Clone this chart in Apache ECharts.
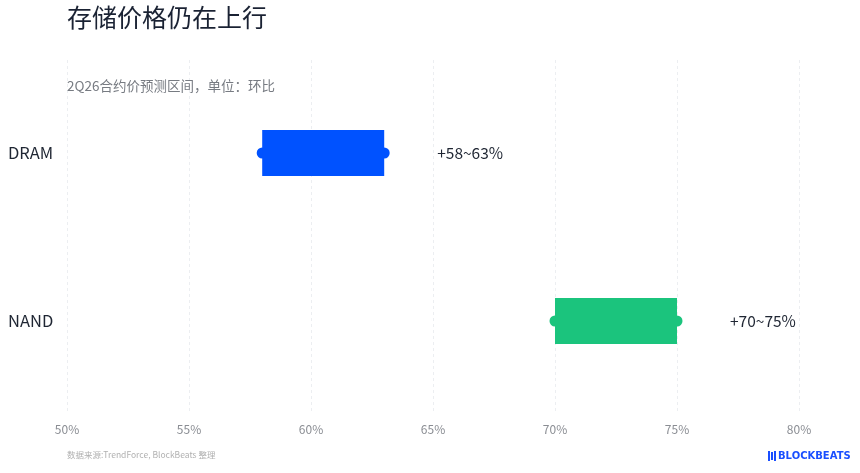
<!DOCTYPE html>
<html><head><meta charset="utf-8">
<script src="https://cdn.jsdelivr.net/npm/echarts@6/dist/echarts.min.js"></script>
<style>html,body{margin:0;padding:0;background:#fff}#c{width:860px;height:473px}</style>
</head><body><div id="c"></div>
<script>
const categories = ['DRAM', 'NAND'];
const lowValues = [58, 70];
const highValues = [63, 75];
const rangeLabels = ['+58~63%', '+70~75%'];
const barColors = ['#0052FF', '#1BC47D'];
const xTicks = [50, 55, 60, 65, 70, 75, 80];

const chart = echarts.init(document.getElementById('c'));
const font = '"Noto Sans CJK SC", "Noto Sans", sans-serif';
const dots = [];
categories.forEach((c, i) => {
  dots.push({ value: [lowValues[i], c], itemStyle: { color: barColors[i], opacity: 1 } });
  dots.push({ value: [highValues[i], c], itemStyle: { color: barColors[i], opacity: 1 } });
});
chart.setOption({
  backgroundColor: '#fff',
  textStyle: { fontFamily: font },
  title: [
    { text: '存储价格仍在上行', left: 67, top: 5, padding: 0, textStyle: { fontSize: 25, fontWeight: 'normal', color: '#1a2233', fontFamily: font } },
    { text: '2Q26合约价预测区间，单位：环比', left: 67, top: 79, padding: 0, textStyle: { fontSize: 13.5, fontWeight: 'normal', color: '#777b82', fontFamily: font } },
    { text: '数据来源:TrendForce, BlockBeats 整理', left: 67, top: 451, padding: 0, textStyle: { fontSize: 8.5, fontWeight: 'normal', color: '#b0b0b0', fontFamily: font } }
  ],
  grid: [
    { left: 67, right: 61, top: 60, bottom: 60 },
    { left: 67, right: 61, top: 69, height: 336 }
  ],
  xAxis: [
    { gridIndex: 0, type: 'value', min: xTicks[0], max: xTicks[xTicks.length - 1], interval: 5,
      axisLine: { show: false }, axisTick: { show: false },
      axisLabel: { formatter: '{value}%', color: '#8a8d93', fontSize: 12, margin: 10, fontFamily: font },
      splitLine: { show: true, lineStyle: { type: [3, 3], color: '#eceef1', width: 1 } } },
    { gridIndex: 1, type: 'value', min: xTicks[0], max: xTicks[xTicks.length - 1], interval: 5, show: false, splitLine: { show: false } }
  ],
  yAxis: [
    { gridIndex: 0, type: 'value', show: false, min: 0, max: 1 },
    { gridIndex: 1, type: 'category', data: categories, inverse: true,
      axisLine: { show: false }, axisTick: { show: false },
      axisLabel: { align: 'left', margin: 59, fontSize: 16.5, color: '#1f2633', fontFamily: font } }
  ],
  series: [
    { type: 'bar', xAxisIndex: 1, yAxisIndex: 1, stack: 'r', data: lowValues, barWidth: 46,
      itemStyle: { color: 'transparent' }, silent: true },
    { type: 'bar', xAxisIndex: 1, yAxisIndex: 1, stack: 'r', barWidth: 46,
      data: highValues.map((h, i) => ({ value: h - lowValues[i], itemStyle: { color: barColors[i] } })),
      label: { show: true, position: 'right', distance: 53, fontSize: 15.5, color: '#1f2633', fontFamily: font,
        formatter: p => rangeLabels[p.dataIndex] } },
    { type: 'scatter', xAxisIndex: 1, yAxisIndex: 1, data: dots, symbolSize: 11, z: 1 }
  ],
  graphic: [
    { type: 'group', left: 768, top: 451, children: [
      { type: 'rect', shape: { x: 0, y: 0, width: 2, height: 10 }, style: { fill: '#1a4fff' } },
      { type: 'rect', shape: { x: 3, y: 1, width: 2, height: 8 }, style: { fill: '#1a4fff' } },
      { type: 'rect', shape: { x: 6, y: 0, width: 2, height: 10 }, style: { fill: '#1a4fff' } },
      { type: 'text', x: 10, y: 0, style: { text: 'BLOCKBEATS', fontSize: 10, fontWeight: 'bold', fill: '#1a4fff', fontFamily: 'DejaVu Sans', textVerticalAlign: 'top' } }
    ] }
  ]
});
</script></body></html>
